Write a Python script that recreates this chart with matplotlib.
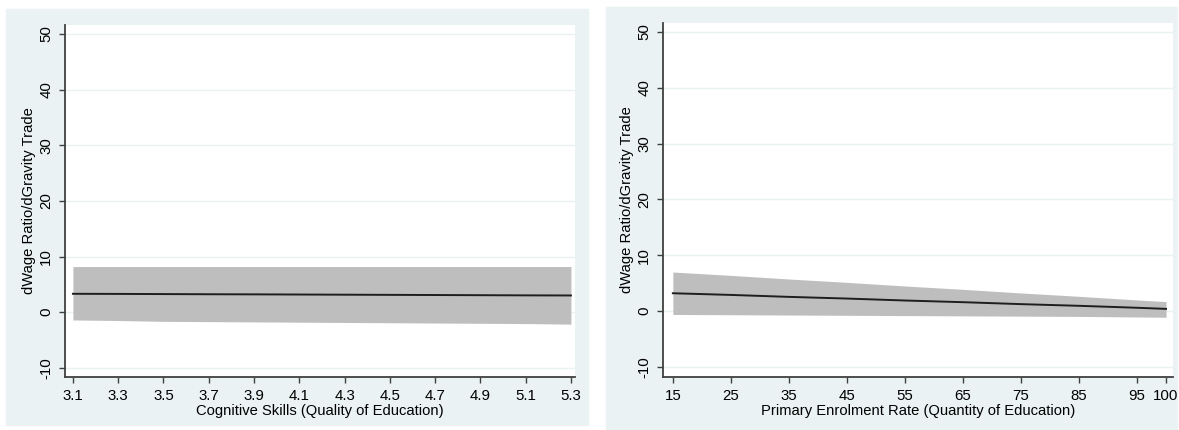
import matplotlib.pyplot as plt
from matplotlib.patches import Rectangle

# left panel: cognitive skills
skills = [3.1, 3.3, 3.5, 3.7, 3.9, 4.1, 4.3, 4.5, 4.7, 4.9, 5.1, 5.3]
skills_effect = [3.3, 3.28, 3.25, 3.22, 3.2, 3.17, 3.14, 3.11, 3.08, 3.05, 3.02, 3.0]
skills_upper = [8.2, 8.2, 8.2, 8.2, 8.2, 8.2, 8.2, 8.2, 8.2, 8.2, 8.2, 8.2]
skills_lower = [-1.4, -1.5, -1.65, -1.7, -1.75, -1.8, -1.85, -1.9, -1.95, -2.0, -2.05, -2.15]
skills_ticks = [3.1, 3.3, 3.5, 3.7, 3.9, 4.1, 4.3, 4.5, 4.7, 4.9, 5.1, 5.3]

# right panel: primary enrolment rate
enrol = [15, 25, 35, 45, 55, 65, 75, 85, 95, 100]
enrol_effect = [3.2, 2.9, 2.55, 2.25, 1.9, 1.6, 1.25, 0.95, 0.6, 0.4]
enrol_upper = [7.0, 6.4, 5.75, 5.15, 4.5, 3.9, 3.25, 2.65, 2.0, 1.7]
enrol_lower = [-0.6, -0.65, -0.7, -0.75, -0.8, -0.85, -0.9, -0.95, -1.05, -1.1]
enrol_ticks = [15, 25, 35, 45, 55, 65, 75, 85, 95, 100]

y_ticks = [-10, 0, 10, 20, 30, 40, 50]

plt.rcParams['font.family'] = ['Liberation Sans', 'DejaVu Sans']
plt.rcParams['axes.unicode_minus'] = False

BG = '#eaf2f3'
BAND = '#bebebe'
LINE = '#1e1e1e'
SPINE = '#404040'

W, H = 1179, 430
fig = plt.figure(figsize=(W / 100, H / 100), dpi=100, facecolor='white')

# panel backgrounds
fig.patches.append(Rectangle((6 / W, 1 - 425 / H), 582 / W, 416 / H,
                             transform=fig.transFigure, color=BG, zorder=-5))
fig.patches.append(Rectangle((606 / W, 0.0), 571 / W, 1 - 7 / H,
                             transform=fig.transFigure, color=BG, zorder=-5))

ax1 = fig.add_axes([65 / W, 1 - 377 / H, 510 / W, 352 / H])
ax2 = fig.add_axes([663 / W, 1 - 377 / H, 510 / W, 354 / H])


def style(ax, xticks, xlabel, xlim, ylim):
    ax.set_facecolor('white')
    for y in y_ticks:
        ax.axhline(y, color=BG, lw=1.0, zorder=0)
    for s in ['top', 'right']:
        ax.spines[s].set_visible(False)
    for s in ['left', 'bottom']:
        ax.spines[s].set_color(SPINE)
        ax.spines[s].set_linewidth(1.3)
    ax.set_xlim(*xlim)
    ax.set_ylim(*ylim)
    ax.set_xticks(xticks)
    ax.set_xticklabels([f'{t:g}' for t in xticks])
    ax.set_yticks(y_ticks)
    ax.tick_params(axis='both', direction='out', length=4.5, width=1,
                   color=SPINE, labelsize=10.8, pad=4)
    ax.tick_params(axis='x', pad=4.5)
    for lab in ax.get_yticklabels():
        lab.set_rotation(90)
        lab.set_va('center')
    ax.set_xlabel(xlabel, fontsize=10.6, labelpad=0.5)
    ax.set_ylabel('dWage Ratio/dGravity Trade', fontsize=10.6, labelpad=2)


ax1.fill_between(skills, skills_lower, skills_upper, color=BAND, lw=0, zorder=2)
ax1.plot(skills, skills_effect, color=LINE, lw=1.4, zorder=3)
style(ax1, skills_ticks, 'Cognitive Skills (Quality of Education)',
      (3.065, 5.318), (-11.65, 51.6))

ax2.fill_between(enrol, enrol_lower, enrol_upper, color=BAND, lw=0, zorder=2)
ax2.plot(enrol, enrol_effect, color=LINE, lw=1.4, zorder=3)
style(ax2, enrol_ticks, 'Primary Enrolment Rate (Quantity of Education)',
      (13.3, 101.2), (-11.8, 51.6))

fig.savefig('out.png', dpi=100, facecolor='white')
